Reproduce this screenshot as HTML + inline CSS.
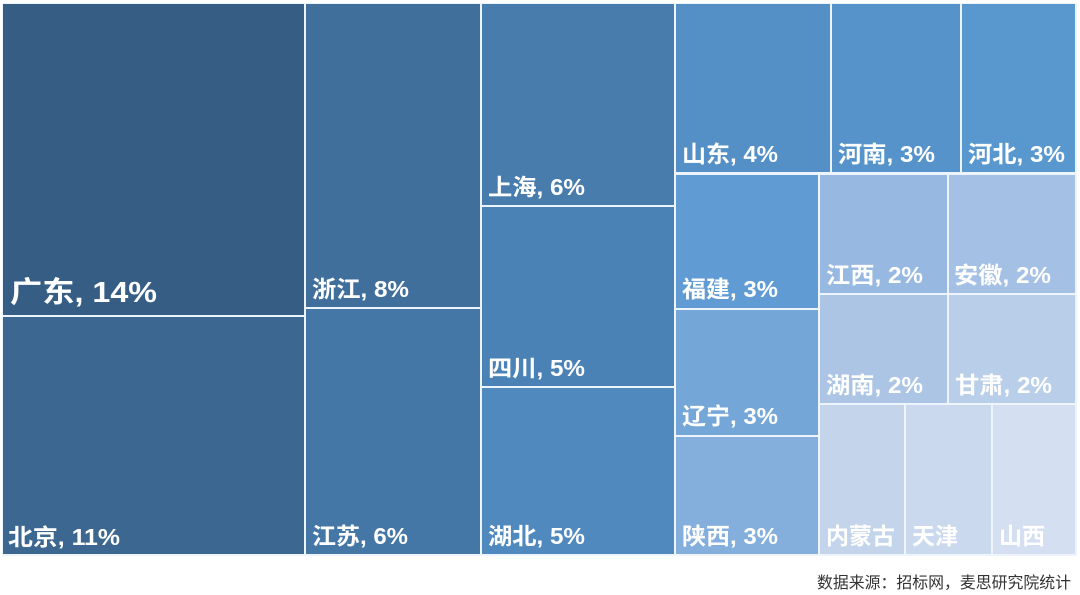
<!DOCTYPE html>
<html>
<head>
<meta charset="utf-8">
<style>
html,body{margin:0;padding:0;background:#fff;}
body{width:1080px;height:595px;overflow:hidden;}
svg{display:block;}
text{font-family:"Liberation Sans","Noto Sans CJK SC","Microsoft YaHei",sans-serif;font-weight:bold;fill:#fff;}
.src{font-weight:normal;fill:#333;font-family:"Liberation Sans","Noto Sans CJK SC",sans-serif;}
</style>
</head>
<body>
<svg width="1080" height="595" viewBox="0 0 1080 595" xmlns="http://www.w3.org/2000/svg">
  <rect x="0" y="0" width="1080" height="595" fill="#fff"/>
  <rect x="2" y="3" width="1075" height="553" fill="#eef4fb"/>

  <!-- column 1 -->
  <rect x="3" y="4" width="301" height="311" fill="#365e85"/>
  <rect x="3" y="317" width="301" height="237" fill="#3b6791"/>
  <!-- column 2 -->
  <rect x="306" y="4" width="174" height="303" fill="#416f9c"/>
  <rect x="306" y="309" width="174" height="245" fill="#4476a6"/>
  <!-- column 3 -->
  <rect x="482" y="4" width="192" height="201" fill="#487cad"/>
  <rect x="482" y="207" width="192" height="179" fill="#4b82b5"/>
  <rect x="482" y="388" width="192" height="166" fill="#4f89bd"/>
  <!-- top row right -->
  <rect x="676" y="4" width="154" height="168" fill="#548fc6"/>
  <rect x="832" y="4" width="128" height="168" fill="#5693ca"/>
  <rect x="962" y="4" width="113" height="168" fill="#5998cf"/>
  <!-- column a -->
  <rect x="676" y="175" width="142" height="133" fill="#609cd3"/>
  <rect x="676" y="310" width="142" height="125" fill="#74a6d8"/>
  <rect x="676" y="437" width="142" height="117" fill="#84aedc"/>
  <!-- block b -->
  <rect x="820" y="175" width="127" height="118" fill="#97b8e0"/>
  <rect x="949" y="175" width="126" height="118" fill="#a4c0e4"/>
  <rect x="820" y="295" width="127" height="108" fill="#acc5e5"/>
  <rect x="949" y="295" width="126" height="108" fill="#b9cee9"/>
  <rect x="820" y="405" width="84" height="149" fill="#c3d4eb"/>
  <rect x="906" y="405" width="85" height="149" fill="#cbd9ee"/>
  <rect x="993" y="405" width="82" height="149" fill="#d4e0f1"/>

  <!-- labels -->
  <text x="10" y="302" font-size="29" textLength="147" lengthAdjust="spacingAndGlyphs">广东, 14%</text>
  <text x="8" y="545" font-size="23" textLength="112" lengthAdjust="spacingAndGlyphs">北京, 11%</text>
  <text x="312" y="297" font-size="23" textLength="97" lengthAdjust="spacingAndGlyphs">浙江, 8%</text>
  <text x="312" y="544" font-size="23" textLength="96" lengthAdjust="spacingAndGlyphs">江苏, 6%</text>
  <text x="488" y="195" font-size="23" textLength="97" lengthAdjust="spacingAndGlyphs">上海, 6%</text>
  <text x="488" y="376" font-size="23" textLength="97" lengthAdjust="spacingAndGlyphs">四川, 5%</text>
  <text x="488" y="544" font-size="23" textLength="97" lengthAdjust="spacingAndGlyphs">湖北, 5%</text>
  <text x="682" y="162" font-size="23" textLength="96" lengthAdjust="spacingAndGlyphs">山东, 4%</text>
  <text x="838" y="162" font-size="23" textLength="97" lengthAdjust="spacingAndGlyphs">河南, 3%</text>
  <text x="968" y="162" font-size="23" textLength="97" lengthAdjust="spacingAndGlyphs">河北, 3%</text>
  <text x="682" y="297" font-size="23" textLength="96" lengthAdjust="spacingAndGlyphs">福建, 3%</text>
  <text x="682" y="424" font-size="23" textLength="96" lengthAdjust="spacingAndGlyphs">辽宁, 3%</text>
  <text x="682" y="544" font-size="23" textLength="96" lengthAdjust="spacingAndGlyphs">陕西, 3%</text>
  <text x="826" y="283" font-size="23" textLength="97" lengthAdjust="spacingAndGlyphs">江西, 2%</text>
  <text x="954" y="283" font-size="23" textLength="97" lengthAdjust="spacingAndGlyphs">安徽, 2%</text>
  <text x="826" y="393" font-size="23" textLength="97" lengthAdjust="spacingAndGlyphs">湖南, 2%</text>
  <text x="955" y="393" font-size="23" textLength="97" lengthAdjust="spacingAndGlyphs">甘肃, 2%</text>
  <text x="826" y="544" font-size="23" textLength="69" lengthAdjust="spacingAndGlyphs">内蒙古</text>
  <text x="912" y="544" font-size="23" textLength="46" lengthAdjust="spacingAndGlyphs">天津</text>
  <text x="999" y="544" font-size="23" textLength="46" lengthAdjust="spacingAndGlyphs">山西</text>

  <text class="src" x="817" y="588" font-size="16" textLength="254" lengthAdjust="spacingAndGlyphs">数据来源：招标网，麦思研究院统计</text>
</svg>
</body>
</html>
